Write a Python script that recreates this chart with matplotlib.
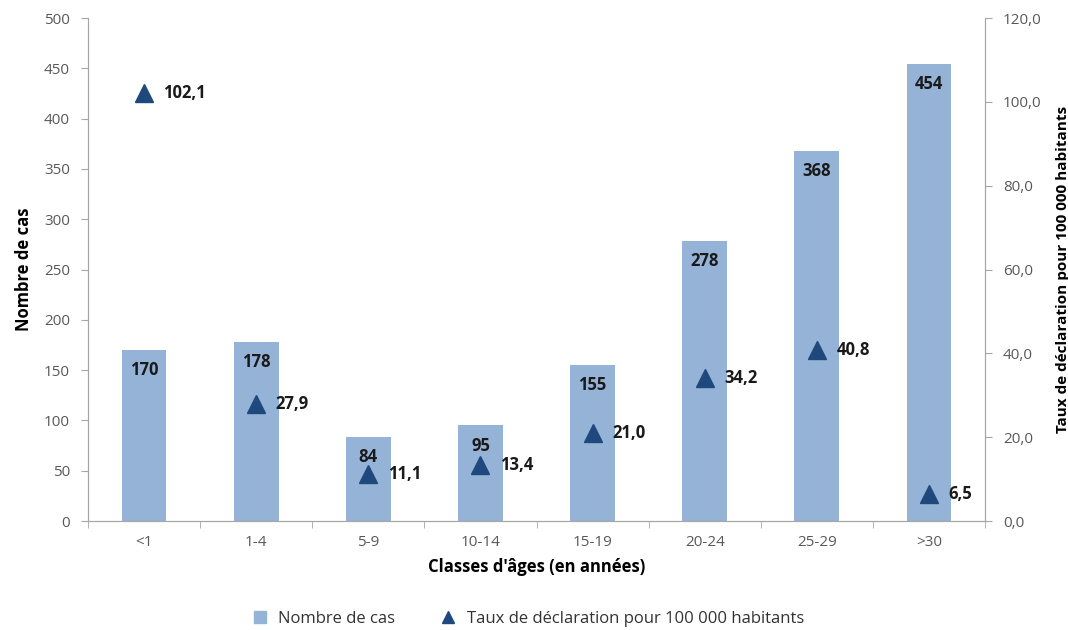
import matplotlib
matplotlib.use("Agg")
import matplotlib.pyplot as plt
import numpy as np
from matplotlib.ticker import FuncFormatter, FixedLocator
from matplotlib.lines import Line2D

categories = ["<1", "1-4", "5-9", "10-14", "15-19", "20-24", "25-29", ">30"]
cases = [170, 178, 84, 95, 155, 278, 368, 454]
rates = [102.1, 27.9, 11.1, 13.4, 21.0, 34.2, 40.8, 6.5]

plt.rcParams['font.family'] = ['Open Sans', 'DejaVu Sans']

bar_color = "#95B3D7"
tri_color = "#1F497D"
spine_color = "#A6A6A6"
tick_color = "#595959"

fig = plt.figure(figsize=(10.68, 6.3), dpi=100)
ax = fig.add_axes([0.0824, 0.173, 0.8399, 0.7984])
ax2 = ax.twinx()

x = np.arange(len(categories))
bars = ax.bar(x, cases, width=0.4, color=bar_color, zorder=2, label="Nombre de cas")
ax.set_xlim(-0.5, len(categories) - 0.5)
ax.set_ylim(0, 500)
ax.set_yticks(np.arange(0, 501, 50))
ax2.set_ylim(0, 120)
ax2.set_yticks(np.arange(0, 121, 20))
ax2.yaxis.set_major_formatter(FuncFormatter(lambda v, p: f"{v:.1f}".replace(".", ",")))

line, = ax2.plot(x, rates, linestyle="none", marker="^", markersize=13,
                 color=tri_color, zorder=3, label="Taux de déclaration pour 100 000 habitants")

for xi, c in zip(x, cases):
    ax.annotate(f"{c}", (xi, c), xytext=(0, -8), textcoords="offset points",
                ha="center", va="top", fontsize=12, fontweight="bold", color="#1a1a1a")
for xi, r in zip(x, rates):
    ax2.annotate(f"{r:.1f}".replace(".", ","), (xi, r), xytext=(14, 0), textcoords="offset points",
                 ha="left", va="center", fontsize=12, fontweight="bold", color="#1a1a1a")

ax.set_xticks(x)
ax.set_xticklabels(categories)
ax.xaxis.set_minor_locator(FixedLocator(np.arange(-0.5, len(categories), 1)))
ax.tick_params(axis="x", which="major", length=0, labelsize=11, labelcolor=tick_color, pad=10)
ax.tick_params(axis="x", which="minor", length=5, color=spine_color)
ax.tick_params(axis="y", length=5, color=spine_color, labelsize=11, labelcolor=tick_color, pad=8)
ax2.tick_params(axis="y", length=5, color=spine_color, labelsize=11, labelcolor=tick_color, pad=8)

for a in (ax, ax2):
    a.spines["top"].set_visible(False)
    for s in ("left", "right", "bottom"):
        a.spines[s].set_color(spine_color)

ax.set_xlabel("Classes d'âges (en années)", fontsize=12, fontweight="bold", labelpad=6)
ax.set_ylabel("Nombre de cas", fontsize=12, fontweight="bold", labelpad=8)
ax2.set_ylabel("Taux de déclaration pour 100 000 habitants", fontsize=11, fontweight="bold", labelpad=10)

labels = ["Nombre de cas", "Taux de déclaration pour 100 000 habitants"]
h1 = Line2D([], [], linestyle="none", marker="s", markersize=8, color=bar_color)
h2 = Line2D([], [], linestyle="none", marker="^", markersize=8, color=tri_color)
fig.legend([h1, h2], labels, loc="center", bbox_to_anchor=(0.49, 0.018), ncol=2,
           frameon=False, fontsize=12, handletextpad=0.1, columnspacing=2.2, labelcolor="#333333")

fig.savefig("out.png", dpi=100)
